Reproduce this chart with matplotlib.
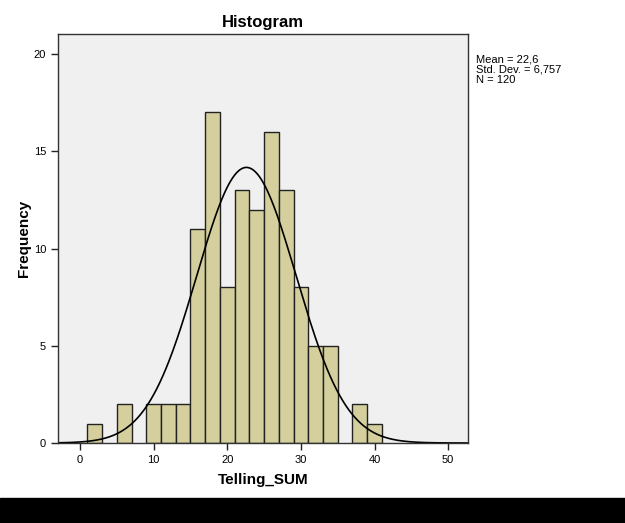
import numpy as np
import matplotlib
matplotlib.use('Agg')
import matplotlib.pyplot as plt
from matplotlib.patches import Rectangle

plt.rcParams['font.family'] = ['Liberation Sans', 'DejaVu Sans']

# histogram bins (left edges, width 2) and counts
bin_left = [1, 5, 9, 11, 13, 15, 17, 19, 21, 23, 25, 27, 29, 31, 33, 37, 39]
counts = [1, 2, 2, 2, 2, 11, 17, 8, 13, 12, 16, 13, 8, 5, 5, 2, 1]
bin_width = 2
mean = 22.6
std = 6.757
n = 120

fig = plt.figure(figsize=(6.25, 5.23), dpi=100)
ax = fig.add_axes([58 / 625, 80 / 523, 410 / 625, 409 / 523])
ax.set_facecolor('#f0f0f0')

ax.bar(bin_left, counts, width=bin_width, align='edge', color='#d4cf9c',
       edgecolor='#222222', linewidth=1.0)

# fitted normal curve
xs = np.linspace(-3, 52.7, 400)
ys = n * bin_width * np.exp(-0.5 * ((xs - mean) / std) ** 2) / (std * np.sqrt(2 * np.pi))
ax.plot(xs, ys, color='black', linewidth=1.2)

ax.set_xlim(-3, 52.7)
ax.set_ylim(0, 21.03)
ax.set_xticks([0, 10, 20, 30, 40, 50])
ax.set_yticks([0, 5, 10, 15, 20])
ax.tick_params(direction='out', length=5, width=1, labelsize=8, color='#222222')
for s in ax.spines.values():
    s.set_color('#333333')
    s.set_linewidth(1)

ax.set_title('Histogram', fontsize=12, fontweight='bold', pad=5)
ax.set_xlabel('Telling_SUM', fontsize=11, fontweight='bold', labelpad=6)
ax.set_ylabel('Frequency', fontsize=11, fontweight='bold', labelpad=2)

fig.text(476 / 625, 1 - 70 / 523, 'Mean = 22,6\nStd. Dev. = 6,757\nN = 120',
         fontsize=8, va='center', ha='left', linespacing=1.0)

# black strip at the bottom
fig.patches.append(Rectangle((0, 0), 1, 25 / 523, transform=fig.transFigure,
                             color='black', zorder=-1))

fig.savefig('out.png', dpi=100)
